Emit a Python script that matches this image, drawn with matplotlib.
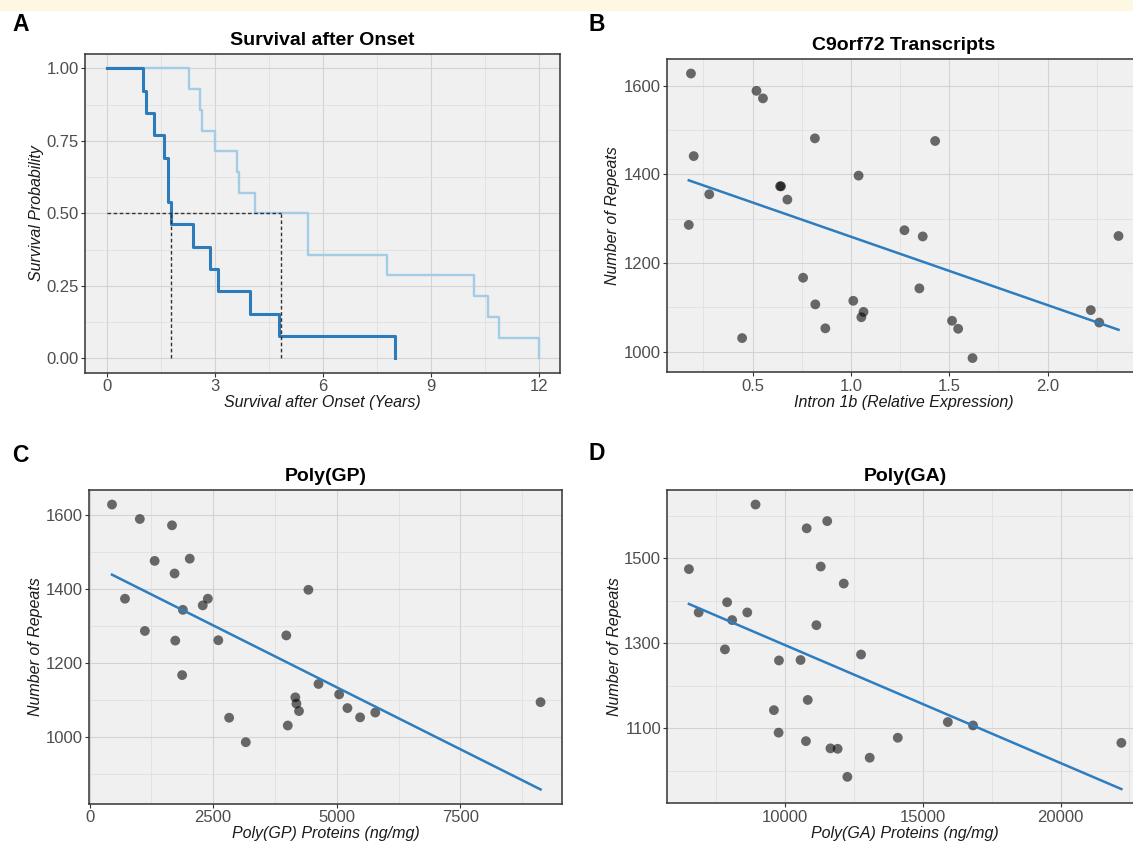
import numpy as np
import matplotlib
matplotlib.use('Agg')
import matplotlib.pyplot as plt
import matplotlib.ticker as mticker
from matplotlib.patches import Rectangle

plt.rcParams['font.family'] = ['Liberation Sans', 'DejaVu Sans']

# --- survival data (event times in years, no censoring) ---
surv_dark = [1.01, 1.09, 1.31, 1.60, 1.70, 1.70, 1.80, 2.40, 2.88, 3.09, 3.98, 4.79, 8.0]
surv_light = [2.29, 2.58, 2.66, 3.00, 3.61, 3.68, 4.11, 5.60, 5.60, 7.79, 10.19, 10.59, 10.89, 12.0]

# --- repeats and the three measures, same patient order ---
repeats = [1627, 1588, 1571, 1481, 1475, 1441, 1397, 1373, 1373, 1355, 1343, 1286, 1274,
           1261, 1260, 1167, 1143, 1115, 1107, 1094, 1090, 1078, 1070, 1066, 1053, 1052,
           1031, 986]
intron1b = [0.187, 0.520, 0.553, 0.817, 1.428, 0.201, 1.039, 0.640, 0.645, 0.280, 0.677,
            0.176, 1.272, 2.360, 1.365, 0.757, 1.348, 1.012, 0.819, 2.219, 1.064, 1.053,
            1.514, 2.262, 0.870, 1.545, 0.447, 1.618]
poly_gp = [454, 1017, 1668, 2027, 1317, 1720, 4427, 717, 2393, 2290, 1888, 1119, 3980,
           2605, 1734, 1873, 4632, 5049, 4163, 9124, 4185, 5217, 4237, 5780, 5473, 2824,
           4010, 3161]
poly_ga = [8928, 11529, 10784, 11294, 6510, 12130, 7896, 6863, 8628, 8079, 11137, 7817,
           12758, 10562, 9778, 10823, 9595, 15908, 16823, np.nan, 9765, 14091, 10758,
           22207, 11647, 11908, 13072, 12261]

W, H = 1133, 843
DARK = '#2C7BBA'
LIGHT = '#A3CCE6'
FIT = '#2D7DBF'


def px_box(l, t, r, b):
    return [l / W, 1 - b / H, (r - l) / W, (b - t) / H]


def style_axes(ax, xmaj, xmin_, ymaj, ymin_):
    ax.set_facecolor('#F0F0F0')
    ax.xaxis.set_major_locator(mticker.FixedLocator(xmaj))
    ax.xaxis.set_minor_locator(mticker.FixedLocator(xmin_))
    ax.yaxis.set_major_locator(mticker.FixedLocator(ymaj))
    ax.yaxis.set_minor_locator(mticker.FixedLocator(ymin_))
    ax.grid(which='major', color='#D3D3D3', lw=0.8)
    ax.grid(which='minor', color='#DDDDDD', lw=0.5)
    ax.set_axisbelow(True)
    ax.tick_params(which='minor', length=0)
    ax.tick_params(which='major', length=3, width=0.8, color='#333333',
                   labelsize=12, labelcolor='#4D4D4D', pad=1.5)
    for s in ax.spines.values():
        s.set_color('#333333')
        s.set_linewidth(1.1)


def labels(ax, title, xlab, ylab, hpx, ylab_x):
    ax.set_title(title, fontsize=14, fontweight='bold', pad=6.5)
    ax.set_xlabel(xlab, fontsize=11.5, style='italic', color='#1A1A1A')
    ax.set_ylabel(ylab, fontsize=11.5, style='italic', color='#1A1A1A')
    ax.xaxis.label.set_va('center')
    ax.yaxis.label.set_va('center')
    ax.xaxis.set_label_coords(0.5, -30 / hpx)
    ax.yaxis.set_label_coords(ylab_x, 0.5)


def km(times):
    t = np.sort(np.asarray(times, dtype=float))
    s = 1 - np.arange(1, len(t) + 1) / len(t)
    return np.r_[0, t], np.r_[1, s]


def km_median(times):
    t, s = km(times)
    i = np.argmax(s <= 0.5)
    if np.isclose(s[i], 0.5):
        j = np.argmax(s < 0.5)
        return (t[i] + t[j]) / 2
    return t[i]


def scatter_fit(ax, x, y, x0=None):
    x = np.asarray(x, dtype=float)
    y = np.asarray(y, dtype=float)
    ok = ~np.isnan(x)
    b1, b0 = np.polyfit(x[ok], y[ok], 1)
    xl = np.array([x[ok].min(), x[ok].max()])
    yl = b0 + b1 * xl
    ax.scatter(x, y, s=50, c='black', alpha=0.57, edgecolors='none', zorder=3)
    ax.plot(xl, yl, color=FIT, lw=1.8, zorder=4)
    xr = xl[1] - xl[0]
    lo = min(y.min(), yl.min())
    hi = max(y.max(), yl.max())
    yr = hi - lo
    left = xl[0] - 0.05 * xr if x0 is None else x0
    ax.set_xlim(left, xl[1] + 0.05 * xr)
    ax.set_ylim(lo - 0.05 * yr, hi + 0.05 * yr)


fig = plt.figure(figsize=(W / 100, H / 100), dpi=100)
fig.patches.append(Rectangle((0, 1 - 10 / H), 1, 10 / H, transform=fig.transFigure,
                             color='#FEF8E2', zorder=0))

# A: survival
axA = fig.add_axes(px_box(85, 54, 560.3, 372.7))
style_axes(axA, [0, 3, 6, 9, 12], [1.5, 4.5, 7.5, 10.5],
           [0, 0.25, 0.5, 0.75, 1.0], [0.125, 0.375, 0.625, 0.875])
for times, col, lw in [(surv_light, LIGHT, 1.7), (surv_dark, DARK, 2.2)]:
    tx, sy = km(times)
    axA.step(tx, sy, where='post', color=col, lw=lw, zorder=3)
meds = [km_median(surv_dark), km_median(surv_light)]
axA.plot([0, max(meds)], [0.5, 0.5], color='#333333', lw=1.0, ls=(0, (2.6, 1.8)), zorder=5)
for m in meds:
    axA.plot([m, m], [0, 0.5], color='#333333', lw=1.0, ls=(0, (2.6, 1.8)), zorder=5)
axA.set_xlim(-0.6, 12.6)
axA.set_ylim(-0.05, 1.05)
axA.yaxis.set_major_formatter(mticker.FormatStrFormatter('%.2f'))
labels(axA, 'Survival after Onset', 'Survival after Onset (Years)', 'Survival Probability',
       318.7, -0.103)

# B: intron 1b
axB = fig.add_axes(px_box(667.3, 59.3, 1140, 372.3))
style_axes(axB, [0.5, 1.0, 1.5, 2.0], [0.25, 0.75, 1.25, 1.75, 2.25],
           [1000, 1200, 1400, 1600], [1100, 1300, 1500])
scatter_fit(axB, intron1b, repeats)
labels(axB, 'C9orf72 Transcripts', 'Intron 1b (Relative Expression)', 'Number of Repeats',
       313, -0.115)

# C: poly(GP)
axC = fig.add_axes(px_box(89.3, 490.3, 562, 803.7))
style_axes(axC, [0, 2500, 5000, 7500], [1250, 3750, 6250, 8750],
           [1000, 1200, 1400, 1600], [900, 1100, 1300, 1500])
scatter_fit(axC, poly_gp, repeats, x0=-5)
labels(axC, 'Poly(GP)', 'Poly(GP) Proteins (ng/mg)', 'Number of Repeats', 313.4, -0.113)

# D: poly(GA)
axD = fig.add_axes(px_box(667.3, 490.3, 1143, 803.3))
style_axes(axD, [10000, 15000, 20000], [7500, 12500, 17500, 22500],
           [1100, 1300, 1500], [1000, 1200, 1400, 1600])
scatter_fit(axD, poly_ga, repeats)
labels(axD, 'Poly(GA)', 'Poly(GA) Proteins (ng/mg)', 'Number of Repeats', 313, -0.11)

for txt, x, y in [('A', 12, 24.5), ('B', 588, 24.5), ('C', 12, 455.5), ('D', 588, 453)]:
    fig.text(x / W, 1 - y / H, txt, fontsize=16.5, fontweight='bold', ha='left', va='center')

fig.savefig('out.png', dpi=100)
